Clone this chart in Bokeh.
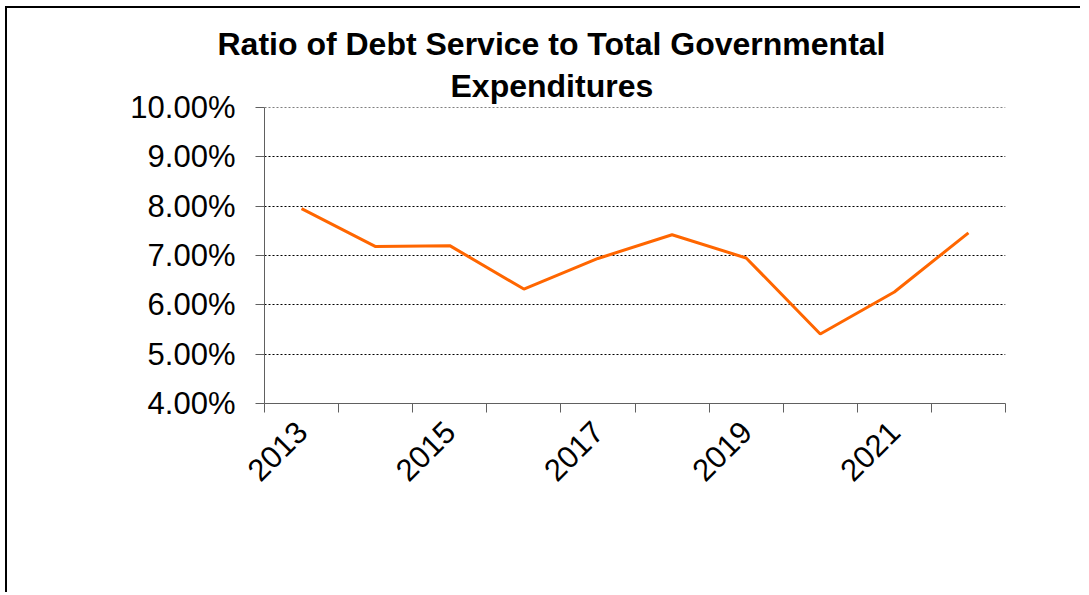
import math
from bokeh.plotting import figure
from bokeh.models import Range1d, FixedTicker, NumeralTickFormatter, Title
from bokeh.embed import file_html
from bokeh.resources import INLINE

# ---- data ----
years = ["2013", "2014", "2015", "2016", "2017", "2018", "2019", "2020", "2021", "2022"]
ratios = [0.0795, 0.0718, 0.0720, 0.0632, 0.0694, 0.0742, 0.0695, 0.0541, 0.0626, 0.0746]
y_ticks = [0.04, 0.05, 0.06, 0.07, 0.08, 0.09, 0.10]
shown_years = ["2013", "2015", "2017", "2019", "2021"]
title_lines = ["Ratio of Debt Service to Total Governmental", "Expenditures"]

FONT = "Liberation Sans"
x_pos = [i + 0.5 for i in range(len(years))]
boundaries = list(range(len(years) + 1))

p = figure(width=1075, height=586, output_backend="svg", toolbar_location=None,
           x_range=Range1d(0, len(years)), y_range=Range1d(y_ticks[0], y_ticks[-1] + 1e-9),
           min_border_left=257, min_border_right=77, min_border_top=99, min_border_bottom=191)
p.styles = {"margin-left": "5px", "margin-top": "6px",
            "border-left": "2px solid #000000", "border-top": "2px solid #000000"}
p.outline_line_color = None
p.background_fill_color = "white"
p.border_fill_color = "white"

p.line(x_pos, ratios, line_color="#FF6600", line_width=3)

# y axis
ya = p.yaxis[0]
ya.ticker = FixedTicker(ticks=y_ticks)
ya.formatter = NumeralTickFormatter(format="0.00%")
ya.axis_line_color = "#606060"
ya.major_tick_line_color = "#606060"
ya.major_tick_out = 9
ya.major_tick_in = 0
ya.minor_tick_line_color = None
ya.major_label_standoff = 20
ya.major_label_text_font = FONT
ya.major_label_text_font_size = "31px"
ya.major_label_text_color = "#000000"

p.ygrid.ticker = FixedTicker(ticks=y_ticks)
p.ygrid.grid_line_color = "#000000"
p.ygrid.grid_line_dash = "2 2"
p.ygrid.grid_line_width = 1
p.xgrid.grid_line_color = None

# x axis
xa = p.xaxis[0]
xa.ticker = FixedTicker(ticks=x_pos, minor_ticks=boundaries)
xa.major_label_overrides = {x: (y if y in shown_years else "") for x, y in zip(x_pos, years)}
xa.major_tick_line_color = None
xa.minor_tick_line_color = "#606060"
xa.minor_tick_out = 9
xa.minor_tick_in = 0
xa.axis_line_color = "#606060"
xa.major_label_orientation = math.pi / 4
xa.major_label_standoff = 14
xa.major_label_text_font = FONT
xa.major_label_text_font_size = "31px"
xa.major_label_text_color = "#000000"

# title (two lines; the later-added one sits further from the frame)
p.add_layout(Title(text=title_lines[1], align="left", offset=450 - 264, standoff=8,
                   text_font=FONT, text_font_style="bold", text_font_size="32px",
                   text_color="#000000"), "above")
p.add_layout(Title(text=title_lines[0], align="left", offset=217 - 264, standoff=0,
                   text_font=FONT, text_font_style="bold", text_font_size="32px",
                   text_color="#000000"), "above")

open("out.html", "w").write(file_html(p, INLINE))
